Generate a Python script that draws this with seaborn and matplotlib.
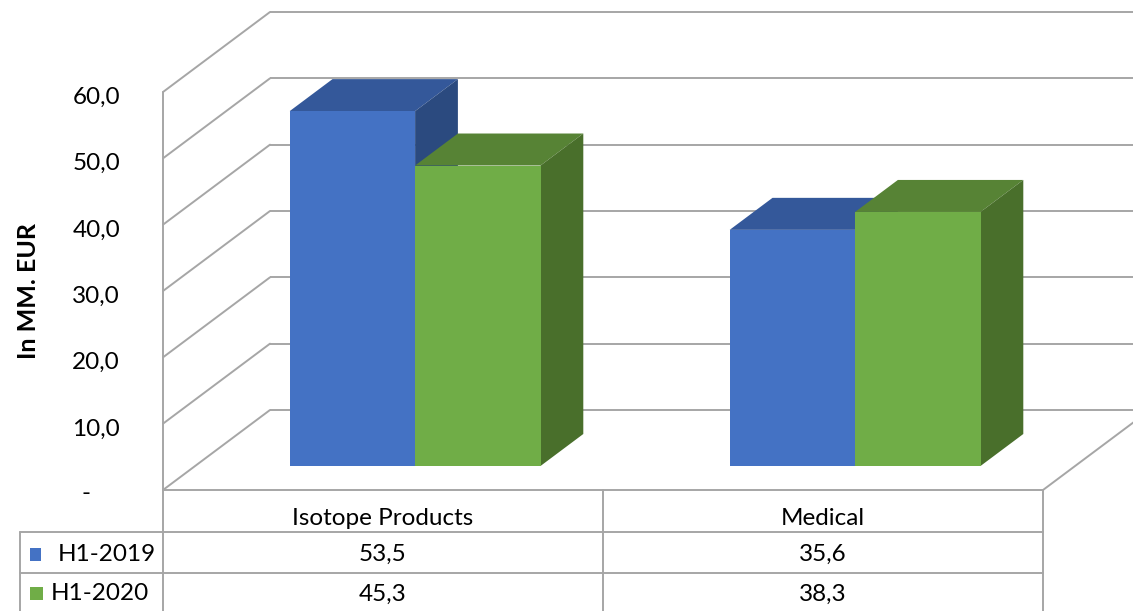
import matplotlib
matplotlib.use("Agg")
import matplotlib.pyplot as plt
from matplotlib.patches import Polygon, Rectangle
from matplotlib.transforms import Affine2D
import seaborn as sns
import pandas as pd

# --- data -------------------------------------------------------------
categories = ["Isotope Products", "Medical"]
series_names = ["H1-2019", "H1-2020"]
h1_2019 = [53.5, 35.6]
h1_2020 = [45.3, 38.3]
y_ticks = [0, 10, 20, 30, 40, 50, 60]
y_title = "In MM. EUR"

front_colors = ["#4472C4", "#70AD47"]
top_colors = ["#34589A", "#578335"]
side_colors = ["#2B4A7F", "#496F2B"]
grid_color = "#A6A6A6"

df = pd.DataFrame({
    "category": categories * 2,
    "series": [series_names[0]] * len(categories) + [series_names[1]] * len(categories),
    "value": h1_2019 + h1_2020,
})

# --- figure -----------------------------------------------------------
sns.set_theme(style="white")
plt.rcParams["font.family"] = ["Lato", "DejaVu Sans"]

W, H, DPI = 1133, 611, 100
fig = plt.figure(figsize=(W / DPI, H / DPI), dpi=DPI)
ax = fig.add_axes([0, 0, 1, 1])

# oblique projection: one category = 440 px, one unit of value = 398/60 px
px_x = 440.0
px_v = 398.0 / 60.0
DX = 107.0 / px_x          # full wall depth along x (data units)
DY = 80.0 / px_v           # full wall depth along y (data units)
x_left_px, v0_px = 163.0, 490.0

sns.barplot(data=df, x="category", y="value", hue="series",
            palette=front_colors, width=0.57, saturation=1,
            linewidth=0, edgecolor="none", legend=False, ax=ax)

ax.set_xlim(-0.5 - x_left_px / px_x, -0.5 + (W - x_left_px) / px_x)
ax.set_ylim(-(H - v0_px) / px_v, v0_px / px_v)
ax.set_axis_off()

xmin, xmax = -0.5, len(categories) - 0.5
vmax = max(y_ticks)
glw = 1.4

# back wall gridlines
for v in y_ticks:
    ax.plot([xmin + DX, xmax + DX + 1], [v + DY, v + DY], color=grid_color, lw=glw, zorder=1,
            solid_capstyle="butt")
# left wall gridlines
for v in y_ticks:
    ax.plot([xmin, xmin + DX], [v, v + DY], color=grid_color, lw=glw, zorder=1)
ax.plot([xmin, xmin], [0, vmax], color=grid_color, lw=glw, zorder=1)
# floor
ax.plot([xmin, xmax], [0, 0], color=grid_color, lw=glw, zorder=1)
ax.plot([xmax, xmax + DX], [0, DY], color=grid_color, lw=glw, zorder=1)

# --- 3D bars ----------------------------------------------------------
t_front, t_back = 0.3, 0.7
depth_x = (t_back - t_front) * DX
depth_y = (t_back - t_front) * DY
shift = Affine2D().translate(t_front * DX, t_front * DY) + ax.transData

bars = sorted(ax.patches, key=lambda p: p.get_x())
for i, bar in enumerate(bars):
    face = bar.get_facecolor()
    k = 0 if abs(face[2] - matplotlib.colors.to_rgb(front_colors[0])[2]) < 0.05 else 1
    x0, w, h = bar.get_x(), bar.get_width(), bar.get_height()
    z = 3 + i * 0.1
    bar.set_transform(shift)
    bar.set_zorder(z + 0.02)
    top = Polygon([(x0, h), (x0 + w, h), (x0 + w + depth_x, h + depth_y), (x0 + depth_x, h + depth_y)],
                  closed=True, facecolor=top_colors[k], edgecolor="none", transform=shift, zorder=z)
    side = Polygon([(x0 + w, 0), (x0 + w + depth_x, depth_y), (x0 + w + depth_x, h + depth_y), (x0 + w, h)],
                   closed=True, facecolor=side_colors[k], edgecolor="none", transform=shift, zorder=z + 0.01)
    ax.add_patch(top)
    ax.add_patch(side)

# --- value axis labels ------------------------------------------------
fs = 17.5
def fmt(v):
    return f"{v:.1f}".replace(".", ",")

for v in y_ticks:
    if v == 0:
        ax.text(xmin - 77 / px_x, v - 0.6, "-", ha="center", va="center", fontsize=fs, color="black")
    else:
        ax.text(xmin - 43 / px_x, v - 0.8, fmt(v), ha="right", va="center", fontsize=fs, color="black")

ax.text(xmin - 135 / px_x, (v0_px - 291) / px_v, y_title, rotation=90, ha="center", va="center",
        fontsize=fs + 0.5, fontweight="bold", color="black")

# --- data table -------------------------------------------------------
v_bottom = -(H - v0_px) / px_v - 1
row1 = -(532 - v0_px) / px_v
row2 = -(573 - v0_px) / px_v
x_table_left = xmin - 143 / px_x
tlw = 1.4
for xv in [xmin + i for i in range(len(categories) + 1)]:
    ax.plot([xv, xv], [0, v_bottom], color=grid_color, lw=tlw, zorder=1)
ax.plot([x_table_left, x_table_left], [row1, v_bottom], color=grid_color, lw=tlw, zorder=1)
for rv in [row1, row2]:
    ax.plot([x_table_left, xmax], [rv, rv], color=grid_color, lw=tlw, zorder=1)

for i, cat in enumerate(categories):
    ax.text(i, row1 / 2 - 1.2, cat, ha="center", va="center", fontsize=fs, color="black")

row_mid = [(row1 + row2) / 2, (row2 + v_bottom + 1) / 2]
series_values = [h1_2019, h1_2020]
label_x = [58, 51]
swatch = [(30, 11, 13), (30, 13, 13)]
for r, (name, vals) in enumerate(zip(series_names, series_values)):
    ym = row_mid[r] - 0.3
    sx, sw, sh = swatch[r]
    ax.add_patch(Rectangle((xmin - (x_left_px - sx) / px_x, ym - sh / 2 / px_v), sw / px_x, sh / px_v,
                           facecolor=front_colors[r], edgecolor="none", zorder=2))
    ax.text(xmin - (x_left_px - label_x[r]) / px_x, ym, name, ha="left", va="center", fontsize=fs,
            color="black")
    for i, val in enumerate(vals):
        ax.text(i, ym, fmt(val), ha="center", va="center", fontsize=fs, color="black")

fig.savefig("out.png", dpi=DPI, facecolor="white")
